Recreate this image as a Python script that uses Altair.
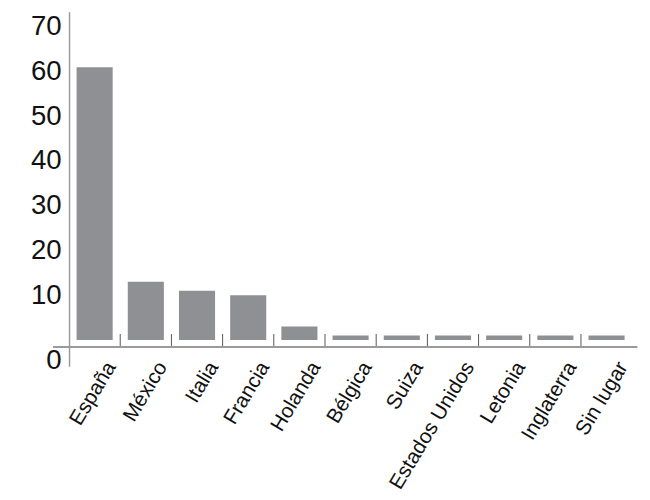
import altair as alt
import pandas as pd

paises = ["España", "México", "Italia", "Francia", "Holanda", "Bélgica",
          "Suiza", "Estados Unidos", "Letonia", "Inglaterra", "Sin lugar"]
valores = [61, 13, 11, 10, 3, 1, 1, 1, 1, 1, 1]
y_ticks = [-4.6, 10, 20, 30, 40, 50, 60, 70]

df = pd.DataFrame({"pais": paises, "valor": valores})

Y_DOMAIN = [-5.86, 73.38]
AXIS_Y = -1.56
SEP_TOP = 1.34
FONT = "Liberation Sans"

xscale = alt.Scale(domain=paises, paddingInner=0, paddingOuter=0)

xenc = alt.X("pais:N", sort=paises, title=None, scale=xscale,
             axis=alt.Axis(orient="bottom", offset=-20, domain=False, ticks=False,
                           labelAngle=-59, labelAlign="right", labelBaseline="middle",
                           labelOffset=17, labelPadding=17, labelFontSize=21,
                           labelFont=FONT, labelColor="#111111"))

yscale = alt.Scale(domain=Y_DOMAIN, nice=False, zero=False)

bars = alt.Chart(df).mark_bar(color="#8f9094", width=alt.RelativeBandSize(0.705)).encode(
    x=xenc,
    y=alt.Y("valor:Q", scale=yscale, title=None,
            axis=alt.Axis(values=y_ticks, labelExpr="datum.value < 0 ? '0' : datum.label",
                          ticks=False, grid=False, domainColor="#9a9a9a", domainWidth=1.5,
                          labelFontSize=28, labelFont=FONT, labelColor="#111111",
                          labelPadding=8)),
    y2=alt.datum(0),
)

seps = alt.Chart(df).transform_filter(
    alt.datum.pais != paises[0]
).mark_rule(color="#555555", strokeWidth=1).encode(
    x=alt.X("pais:N", sort=paises, bandPosition=0, scale=xscale),
    y=alt.datum(AXIS_Y, scale=yscale),
    y2=alt.datum(SEP_TOP),
)

xline = alt.Chart(df).mark_rule(color="#9a9a9a", strokeWidth=1.5).encode(
    x=alt.value(-16),
    x2=alt.value(577),
    y=alt.datum(AXIS_Y, scale=yscale),
)

chart = alt.layer(bars, seps, xline).properties(
    width=572, height=360,
    padding={"left": 62, "top": 0, "right": 10, "bottom": 130},
    autosize=alt.AutoSizeParams(type="none"),
).configure_view(stroke=None)

chart.save("out.html", embed_options={"renderer": "svg", "actions": False})
